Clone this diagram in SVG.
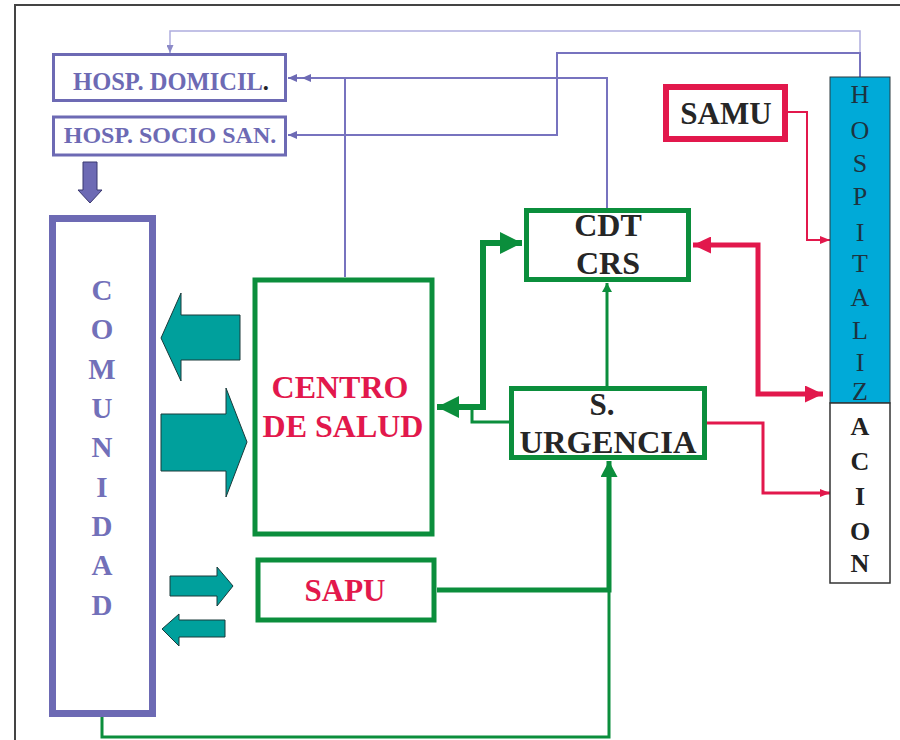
<svg xmlns="http://www.w3.org/2000/svg" width="900" height="740" viewBox="0 0 900 740" font-family="'Liberation Serif', 'DejaVu Serif', serif">
<style>
.serif{font-family:'Liberation Serif','DejaVu Serif',serif;font-weight:bold;text-anchor:middle}
.purp{fill:#6d6ab4}
.crim{fill:#e2184c}
.dark{fill:#262626}
.pbox{fill:#fff;stroke:#6d6ab4;stroke-width:3}
.gbox{fill:#fff;stroke:#0b8e3c;stroke-width:5}
.teal{fill:#00a09c;stroke:#1a3a3a;stroke-width:1}
.ln{fill:none}
</style>
<defs>
<marker id="ap" markerUnits="userSpaceOnUse" markerWidth="9" markerHeight="8" refX="9" refY="4" orient="auto-start-reverse"><path d="M0,0 L9,4 L0,8 z" fill="#6d6ab4"/></marker>
<marker id="apl" markerUnits="userSpaceOnUse" markerWidth="8" markerHeight="7" refX="8" refY="3.5" orient="auto-start-reverse"><path d="M0,0 L8,3.5 L0,7 z" fill="#8c8ac8"/></marker>
<marker id="agb" markerUnits="userSpaceOnUse" markerWidth="22" markerHeight="22" refX="22" refY="11" orient="auto-start-reverse"><path d="M0,0 L22,11 L0,22 z" fill="#0b8e3c"/></marker>
<marker id="agm" markerUnits="userSpaceOnUse" markerWidth="16" markerHeight="17" refX="16" refY="8.5" orient="auto-start-reverse"><path d="M0,0 L16,8.5 L0,17 z" fill="#0b8e3c"/></marker>
<marker id="ags" markerUnits="userSpaceOnUse" markerWidth="9" markerHeight="10" refX="9" refY="5" orient="auto-start-reverse"><path d="M0,0 L9,5 L0,10 z" fill="#0b8e3c"/></marker>
<marker id="arb" markerUnits="userSpaceOnUse" markerWidth="18" markerHeight="17" refX="18" refY="8.5" orient="auto-start-reverse"><path d="M0,0 L18,8.5 L0,17 z" fill="#e2184c"/></marker>
<marker id="ars" markerUnits="userSpaceOnUse" markerWidth="10" markerHeight="8" refX="10" refY="4" orient="auto-start-reverse"><path d="M0,0 L10,4 L0,8 z" fill="#e2184c"/></marker>
</defs>
<rect width="900" height="740" fill="#fff"/>
<g id="frame" fill="none" stroke="#444" stroke-width="2">
<path d="M15,740 L15,5 L900,5"/>
</g>
<g id="connectors">
<path class="ln" d="M860,53 L860,31 L170,31 L170,53" stroke="#aeadde" stroke-width="1.5" marker-end="url(#apl)"/>
<path class="ln" d="M860,77 L860,53 L557,53 L557,135 L288,135" stroke="#7773bf" stroke-width="2" marker-end="url(#ap)"/>
<path class="ln" d="M607,208 L607,78 L288,78" stroke="#7773bf" stroke-width="2" marker-end="url(#ap)"/>
<path class="ln" d="M345,277 L345,78 L302,78" stroke="#7773bf" stroke-width="2" marker-end="url(#ap)"/>
<path class="ln" d="M788,112 L807,112 L807,240 L830,240" stroke="#e2184c" stroke-width="2" marker-end="url(#ars)"/>
<path class="ln" d="M693,245 L758,245 L758,394 L823,394" stroke="#e2184c" stroke-width="5" marker-start="url(#arb)" marker-end="url(#arb)"/>
<path class="ln" d="M707,423 L763,423 L763,493 L830,493" stroke="#e2184c" stroke-width="3" marker-end="url(#ars)"/>
<path class="ln" d="M522,243 L483,243 L483,407 L437,407" stroke="#0b8e3c" stroke-width="6" marker-start="url(#agb)" marker-end="url(#agb)"/>
<path class="ln" d="M509,422 L472,422 L472,407" stroke="#0b8e3c" stroke-width="3"/>
<path class="ln" d="M607,386 L607,283" stroke="#0b8e3c" stroke-width="3" marker-end="url(#ags)"/>
<path class="ln" d="M102,717 L102,737 L609,737 L609,590" stroke="#0b8e3c" stroke-width="3"/>
<path class="ln" d="M437,590 L609,590 L609,461" stroke="#0b8e3c" stroke-width="5" marker-end="url(#agm)"/>
</g>
<g id="hosp-domicil">
<rect class="pbox" x="53.5" y="54.5" width="232" height="46"/>
<text class="serif purp" x="171" y="90" font-size="24.5">HOSP. DOMICIL<tspan fill="#222">.</tspan></text>
</g>
<g id="hosp-socio">
<rect class="pbox" x="53.5" y="117" width="232" height="38"/>
<text class="serif purp" x="170" y="143" font-size="24">HOSP. SOCIO SAN.</text>
</g>
<g id="down-arrow">
<polygon points="83,162 97,162 97,190 102,190 90,203 78,190 83,190" fill="#6d6ab4" stroke="#3a3870" stroke-width="1"/>
</g>
<g id="comunidad">
<rect x="52.5" y="218.5" width="100" height="495" fill="#fff" stroke="#6d6ab4" stroke-width="7"/>
<text class="serif" fill="#7270b9" font-size="29">
<tspan x="102" y="300">C</tspan><tspan x="102" y="339">O</tspan><tspan x="102" y="379">M</tspan><tspan x="102" y="418">U</tspan><tspan x="102" y="457">N</tspan><tspan x="102" y="497">I</tspan><tspan x="102" y="536">D</tspan><tspan x="102" y="575">A</tspan><tspan x="102" y="615">D</tspan>
</text>
</g>
<g id="teal-arrows">
<polygon class="teal" points="240,315 181,315 181,293 161,338 181,381 181,360 240,360"/>
<polygon class="teal" points="161,414 226,414 226,388 247,442 226,497 226,471 161,471"/>
<polygon class="teal" points="170,576 217,576 217,567 233,586 217,606 217,596 170,596"/>
<polygon class="teal" points="225,620 179,620 179,614 162,629 179,646 179,637 225,637"/>
</g>
<g id="centro-salud">
<rect class="gbox" x="255" y="280" width="177" height="254"/>
<text class="serif crim" x="340" y="398" font-size="32">CENTRO</text>
<text class="serif crim" x="343" y="437" font-size="32">DE SALUD</text>
</g>
<g id="sapu">
<rect class="gbox" x="258" y="560" width="176" height="60" stroke-width="6"/>
<text class="serif crim" x="345" y="601" font-size="31">SAPU</text>
</g>
<g id="cdt-crs">
<rect class="gbox" x="526.5" y="210.5" width="162" height="69"/>
<text class="serif dark" x="608" y="236" font-size="32">CDT</text>
<text class="serif dark" x="608" y="274" font-size="32">CRS</text>
</g>
<g id="s-urgencia">
<rect class="gbox" x="511.5" y="388.5" width="193" height="69"/>
<text class="serif dark" x="602" y="415" font-size="31">S.</text>
<text class="serif dark" x="608" y="453" font-size="32.5">URGENCIA</text>
</g>
<g id="samu">
<rect x="666" y="87" width="119" height="52" fill="#fff" stroke="#e2184c" stroke-width="6"/>
<text class="serif dark" x="726" y="124" font-size="31">SAMU</text>
</g>
<g id="hospitalizacion">
<rect x="830" y="77" width="60" height="326" fill="#00aad8" stroke="#2a3a40" stroke-width="1"/>
<rect x="830" y="403" width="60" height="180" fill="#fff" stroke="#333" stroke-width="1.5"/>
<text class="serif" fill="#1d3340" font-size="26" style="font-weight:normal">
<tspan x="860" y="103">H</tspan><tspan x="860" y="139">O</tspan><tspan x="860" y="172">S</tspan><tspan x="860" y="205">P</tspan><tspan x="860" y="241">I</tspan><tspan x="860" y="272">T</tspan><tspan x="860" y="306">A</tspan><tspan x="860" y="339">L</tspan><tspan x="860" y="371">I</tspan><tspan x="860" y="400">Z</tspan>
</text>
<text class="serif" fill="#222" font-size="26">
<tspan x="860" y="435">A</tspan><tspan x="860" y="470">C</tspan><tspan x="860" y="505">I</tspan><tspan x="860" y="540">O</tspan><tspan x="860" y="572">N</tspan>
</text>
</g>
</svg>
